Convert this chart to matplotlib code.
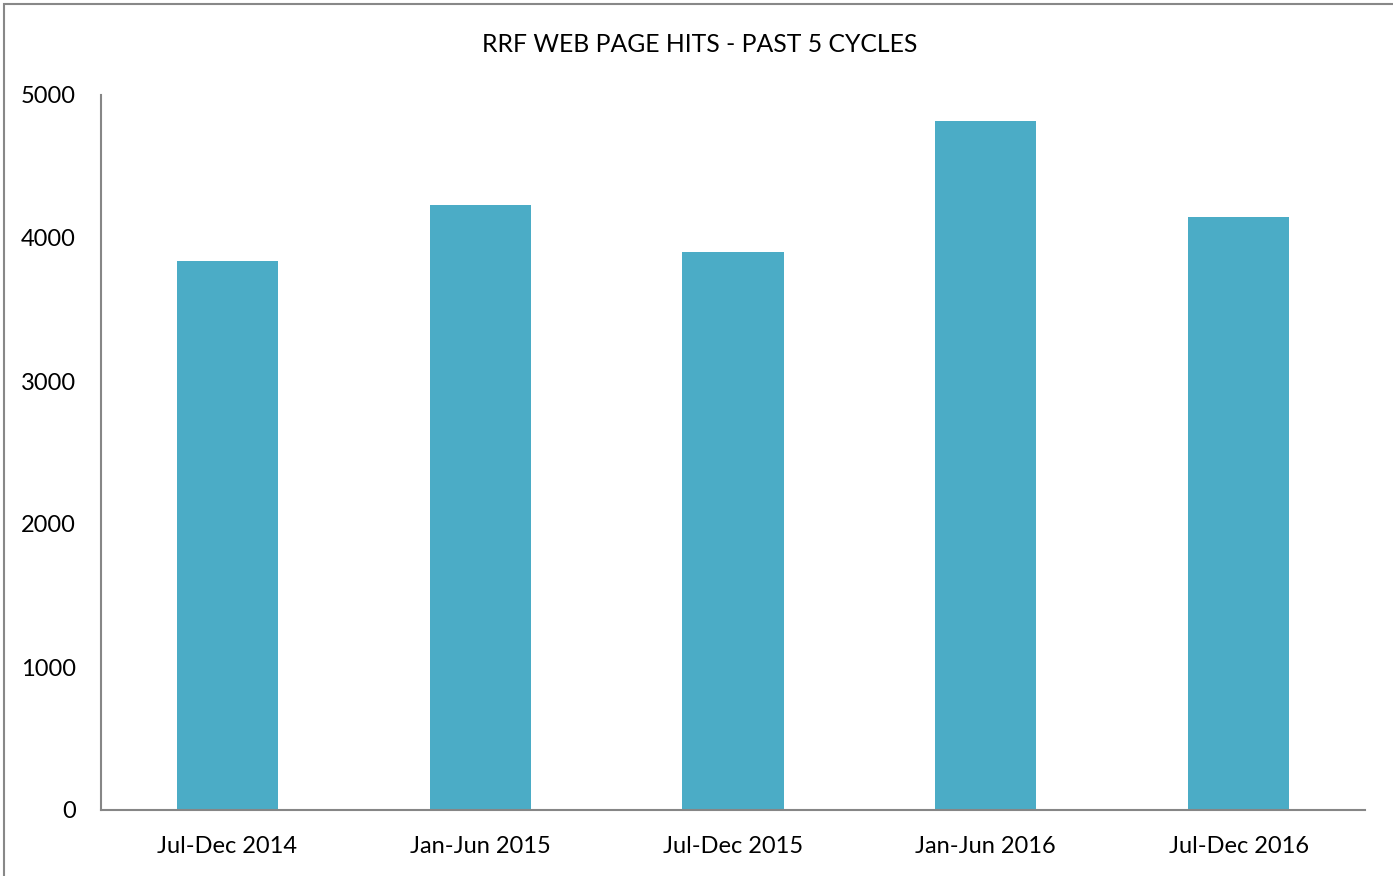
import matplotlib
matplotlib.use('Agg')
import matplotlib.pyplot as plt
from matplotlib.patches import Rectangle

plt.rcParams['font.family'] = ['Lato', 'DejaVu Sans']

# data
cycles = ['Jul-Dec 2014', 'Jan-Jun 2015', 'Jul-Dec 2015', 'Jan-Jun 2016', 'Jul-Dec 2016']
hits = [3840, 4230, 3900, 4820, 4145]
yticks = [0, 1000, 2000, 3000, 4000, 5000]

W, H = 1393, 876
fig = plt.figure(figsize=(W / 100, H / 100), dpi=100)
ax = fig.add_axes([101 / W, 1 - 810 / H, (1365 - 101) / W, (810 - 95) / H])

ax.bar(range(len(cycles)), hits, width=0.4, color='#4BACC6')
ax.set_xlim(-0.5, len(cycles) - 0.5)
ax.set_ylim(0, 5000)
ax.set_yticks(yticks)
ax.set_xticks(range(len(cycles)))
ax.set_xticklabels(cycles)

for side in ['top', 'right']:
    ax.spines[side].set_visible(False)
for side in ['left', 'bottom']:
    ax.spines[side].set_color('#868686')
    ax.spines[side].set_linewidth(1.5)
ax.tick_params(axis='both', length=0, labelsize=17, colors='black')
ax.tick_params(axis='y', pad=18)
ax.tick_params(axis='x', pad=19)

fig.text(0.5 + 3 / W, 1 - 45 / H, 'RRF WEB PAGE HITS - PAST 5 CYCLES', ha='center', va='center', fontsize=17.8)

# outer chart frame
fig.patches.append(Rectangle((4 / W, -0.05), 1.1, 1.05 - 4 / H, transform=fig.transFigure,
                             fill=False, edgecolor='#888888', linewidth=1.5))

fig.savefig('out.png', dpi=100)
